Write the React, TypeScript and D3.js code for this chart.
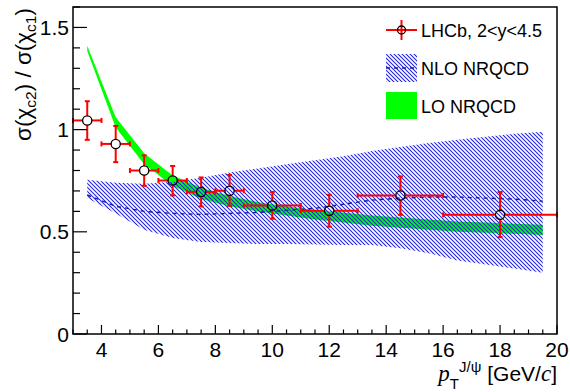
import * as d3 from 'd3'

// LHCb measurement: sigma(chi_c2)/sigma(chi_c1) vs pT(J/psi)
const ptX = [3.5, 4.5, 5.5, 6.5, 7.5, 8.5, 10, 12, 14.5, 18]
const ptXLo = [3, 4, 5, 6, 7, 8, 9, 11, 13, 16]
const ptXHi = [4, 5, 6, 7, 8, 9, 11, 13, 16, 20]
const ptY = [1.045, 0.93, 0.8, 0.751, 0.695, 0.701, 0.629, 0.603, 0.678, 0.583]
const ptYLo = [0.95, 0.841, 0.725, 0.678, 0.624, 0.627, 0.564, 0.525, 0.583, 0.474]
const ptYHi = [1.139, 1.018, 0.874, 0.822, 0.766, 0.778, 0.695, 0.681, 0.771, 0.695]

// theory grid
const thX = [3.5, 4.5, 5.5, 6.5, 7.5, 8.5, 9.5, 10.5, 11.5, 12.5, 13.5, 14.5, 15.5, 16.5, 17.5, 18.5, 19.5]
const nloCentral = [0.68, 0.625, 0.6, 0.59, 0.585, 0.59, 0.595, 0.605, 0.615, 0.635, 0.655, 0.665, 0.67, 0.67, 0.665, 0.66, 0.65]
const nloLow = [0.665, 0.59, 0.51, 0.47, 0.45, 0.445, 0.44, 0.44, 0.438, 0.436, 0.435, 0.42, 0.395, 0.36, 0.34, 0.32, 0.3]
const nloHigh = [0.755, 0.74, 0.735, 0.745, 0.765, 0.79, 0.81, 0.83, 0.85, 0.87, 0.895, 0.915, 0.935, 0.95, 0.965, 0.98, 0.99]
const loLow = [1.385, 1.01, 0.83, 0.725, 0.66, 0.625, 0.6, 0.58, 0.56, 0.545, 0.53, 0.52, 0.51, 0.5, 0.495, 0.49, 0.485]
const loHigh = [1.41, 1.06, 0.885, 0.775, 0.715, 0.675, 0.645, 0.625, 0.605, 0.595, 0.58, 0.57, 0.56, 0.55, 0.545, 0.54, 0.535]

const legendLabels = ['LHCb, 2<y<4.5', 'NLO NRQCD', 'LO NRQCD']

const SANS = '"Liberation Sans", Arial, Helvetica, sans-serif'
const SERIF = '"Liberation Serif", "Times New Roman", serif'

export default function App() {
  const W = 570
  const H = 392
  const x = d3.scaleLinear().domain([3, 20]).range([73, 557])
  const y = d3.scaleLinear().domain([0, 1.6]).range([334, 7])

  const band = (lo: number[], hi: number[]) =>
    d3.area<number>()
      .x(d => x(d))
      .y0((_, i) => y(lo[i]))
      .y1((_, i) => y(hi[i]))(thX) || ''
  const centralLine = d3.line<number>()
    .x(d => x(d))
    .y((_, i) => y(nloCentral[i]))(thX) || ''

  const xMajor = x.ticks(8)
  const xMinor = x.ticks(34).filter(v => !xMajor.includes(v))
  const yMajor = y.ticks(4)
  const yMinor = y.ticks(16).filter(v => !yMajor.some(m => Math.abs(m - v) < 1e-9))

  const r = 4.6
  const cap = 2.5
  const red = '#ff0000'

  const lx0 = 386
  const lx1 = 417
  const lxc = (lx0 + lx1) / 2
  const lText = 421
  const rows = [30, 68, 106]

  return (
    <div style={{ position: 'fixed', left: 0, top: 0 }}>
      <svg width={W} height={H} style={{ display: 'block', background: '#fff' }}>
        <defs>
          <pattern id="hatch" patternUnits="userSpaceOnUse" width="4" height="4">
            <path d="M-1,-1 L5,5 M-1,3 L1,5 M3,-1 L5,1" stroke="#1f1fe0" strokeWidth="1.05" />
          </pattern>
        </defs>

        {/* LO band */}
        <path d={band(loLow, loHigh)} fill="#00ff00" />
        {/* NLO band */}
        <path d={band(nloLow, nloHigh)} fill="url(#hatch)" />
        <path d={centralLine} fill="none" stroke="#1a1aa8" strokeWidth="1.4" strokeDasharray="4,4" />

        {/* data */}
        {ptX.map((v, i) => {
          const cx = x(v)
          const cy = y(ptY[i])
          const xl = x(ptXLo[i])
          const xh = x(ptXHi[i])
          const yl = y(ptYLo[i])
          const yh = y(ptYHi[i])
          return (
            <g key={i} stroke={red} strokeWidth="2">
              <line x1={xl} x2={cx - r} y1={cy} y2={cy} />
              <line x1={cx + r} x2={xh} y1={cy} y2={cy} />
              <line x1={cx} x2={cx} y1={yh} y2={cy - r} />
              <line x1={cx} x2={cx} y1={cy + r} y2={yl} />
              <line x1={xl} x2={xl} y1={cy - cap} y2={cy + cap} />
              <line x1={xh} x2={xh} y1={cy - cap} y2={cy + cap} />
              <line x1={cx - cap} x2={cx + cap} y1={yh} y2={yh} />
              <line x1={cx - cap} x2={cx + cap} y1={yl} y2={yl} />
              <circle cx={cx} cy={cy} r={r} fill="none" stroke="#000" strokeWidth="1.3" />
            </g>
          )
        })}

        {/* frame */}
        <rect x={73} y={7} width={557 - 73} height={334 - 7} fill="none" stroke="#000" strokeWidth="1.5" />

        {/* ticks */}
        <g stroke="#000" strokeWidth="1.2">
          {xMajor.map(v => <line key={'xM' + v} x1={x(v)} x2={x(v)} y1={334} y2={325} />)}
          {xMinor.map(v => <line key={'xm' + v} x1={x(v)} x2={x(v)} y1={334} y2={329.5} />)}
          {yMajor.map(v => <line key={'yM' + v} x1={73} x2={87} y1={y(v)} y2={y(v)} />)}
          {yMinor.map(v => <line key={'ym' + v} x1={73} x2={80} y1={y(v)} y2={y(v)} />)}
        </g>
        <g fontFamily={SANS} fontSize="21" fill="#000">
          {xMajor.map(v => (
            <text key={'xl' + v} x={x(v)} y={357} textAnchor="middle">{v}</text>
          ))}
          {yMajor.map(v => (
            <text key={'yl' + v} x={69} y={y(v) + 7.5} textAnchor="end">{v}</text>
          ))}
        </g>

        {/* y title */}
        <text transform="translate(31,8) rotate(-90)" textAnchor="end" fontFamily={SANS} fontSize="22.5">
          σ(χ<tspan fontSize="15.5" dy="5">c2</tspan><tspan dy="-5">) / σ(χ</tspan>
          <tspan fontSize="15.5" dy="5">c1</tspan><tspan dy="-5">)</tspan>
        </text>

        {/* x title */}
        <text x={557} y={381} textAnchor="end" fontFamily={SANS} fontSize="21">
          <tspan fontFamily={SERIF} fontStyle="italic" fontSize="23">p</tspan>
          <tspan fontSize="15" dy="8">T</tspan>
          <tspan fontSize="15" dy="-17">J/ψ</tspan>
          <tspan dy="9">{' [GeV/'}</tspan>
          <tspan fontFamily={SERIF} fontStyle="italic" fontSize="23">c</tspan>
          <tspan>]</tspan>
        </text>

        {/* legend */}
        <g>
          <line x1={lx0} x2={lx1} y1={rows[0]} y2={rows[0]} stroke={red} strokeWidth="2" />
          <line x1={lxc} x2={lxc} y1={rows[0] - 10} y2={rows[0] + 10} stroke={red} strokeWidth="2" />
          <circle cx={lxc} cy={rows[0]} r={4} fill="none" stroke="#000" strokeWidth="1.3" />
          <rect x={lx0} y={rows[1] - 14} width={lx1 - lx0} height={28} fill="url(#hatch)" />
          <line x1={lx0} x2={lx1} y1={rows[1]} y2={rows[1]} stroke="#1a1aa8" strokeWidth="1.4" strokeDasharray="4,4" />
          <rect x={lx0} y={rows[2] - 14} width={lx1 - lx0} height={27} fill="#00ff00" />
          {legendLabels.map((t, i) => (
            <text key={t} x={lText} y={rows[i] + 7} fontFamily={SANS} fontSize="18">{t}</text>
          ))}
        </g>
      </svg>
    </div>
  )
}
